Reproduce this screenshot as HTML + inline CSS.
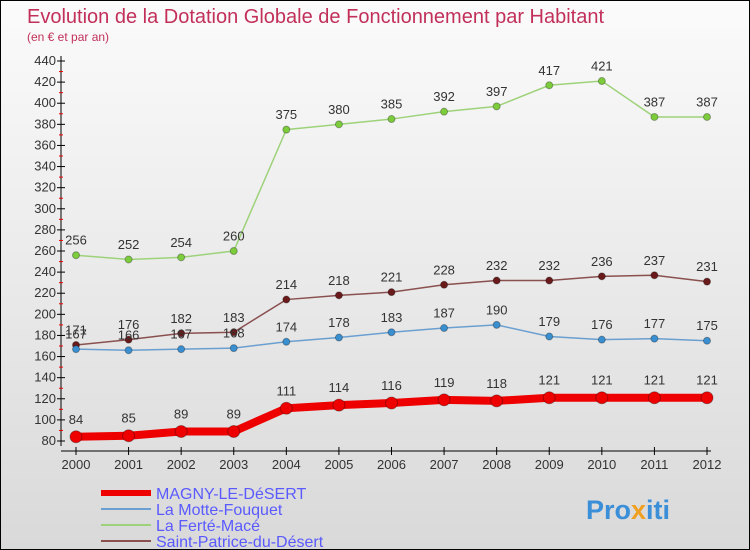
<!DOCTYPE html>
<html><head><meta charset="utf-8"><style>
body{margin:0}
#c{width:750px;height:550px;position:relative;overflow:hidden;box-sizing:border-box;border:1px solid #000;background:linear-gradient(#fbfbfb,#d9d9d9);font-family:"Liberation Sans",sans-serif}
svg text{font-family:"Liberation Sans",sans-serif}
</style></head><body>
<div id="c">
<svg width="750" height="550" id="s">
<text x="26" y="22" font-size="20" fill="#c2305a">Evolution de la Dotation Globale de Fonctionnement par Habitant</text>
<text x="26" y="40" font-size="12" fill="#c2305a">(en € et par an)</text>
<g id="axes"></g><g id="series"></g>
<g>
<line x1="100" y1="492" x2="150" y2="492" stroke="#e00" stroke-width="6"/>
<text x="155" y="498" font-size="16" fill="#5a5aff">MAGNY-LE-DéSERT</text>
<line x1="100" y1="508" x2="150" y2="508" stroke="#6a9fd0" stroke-width="2"/>
<text x="155" y="514" font-size="16" fill="#5a5aff">La Motte-Fouquet</text>
<line x1="100" y1="524" x2="150" y2="524" stroke="#9ed27a" stroke-width="2"/>
<text x="155" y="530" font-size="16" fill="#5a5aff">La Ferté-Macé</text>
<line x1="100" y1="540" x2="150" y2="540" stroke="#8a5050" stroke-width="2"/>
<text x="155" y="546" font-size="16" fill="#5a5aff">Saint-Patrice-du-Désert</text>
</g>
<text x="585" y="518" font-size="27" font-weight="bold" fill="#3b8fd8">Pro<tspan fill="#f0a020">x</tspan>iti</text>
</svg></div>
<script>
const years=[2000,2001,2002,2003,2004,2005,2006,2007,2008,2009,2010,2011,2012];
const magny=[84,85,89,89,111,114,116,119,118,121,121,121,121];
const motte=[167,166,167,168,174,178,183,187,190,179,176,177,175];
const ferte=[256,252,254,260,375,380,385,392,397,417,421,387,387];
const stp=[171,176,182,183,214,218,221,228,232,232,236,237,231];
const yTicks=[80,100,120,140,160,180,200,220,240,260,280,300,320,340,360,380,400,420,440];
const NS="http://www.w3.org/2000/svg";
const X=i=>75+i*(706-75)/12;
const Y=v=>440-(v-80)*380/360;
function mk(t,a,p){const e=document.createElementNS(NS,t);for(const k in a)e.setAttribute(k,a[k]);p.appendChild(e);return e;}
const ax=document.getElementById('axes');
mk('line',{x1:60,y1:55,x2:60,y2:445,stroke:'#000'},ax);
mk('line',{x1:60,y1:450,x2:710,y2:450,stroke:'#000'},ax);
yTicks.forEach(v=>{
 mk('line',{x1:56,y1:Y(v),x2:64,y2:Y(v),stroke:'#000'},ax);
 if(v<440) mk('line',{x1:58,y1:Y(v+10),x2:62,y2:Y(v+10),stroke:'#e00'},ax);
 const t=mk('text',{x:55,y:Y(v)+4,'font-size':13,fill:'#333','text-anchor':'end'},ax);t.textContent=v;
 
 
});
years.forEach((y,i)=>{
 mk('line',{x1:X(i),y1:446,x2:X(i),y2:454,stroke:'#000'},ax);
 const t=mk('text',{x:X(i),y:468,'font-size':13,fill:'#333','text-anchor':'middle'},ax);t.textContent=y;
 
 
});
const sg=document.getElementById('series');
function draw(data,col,dot,w,r,name){
 const g=mk('g',{},sg);
 
 
 mk('polyline',{points:data.map((v,i)=>X(i)+','+Y(v)).join(' '),fill:'none',stroke:col,'stroke-width':w},g);
 data.forEach((v,i)=>{
  const c=mk('circle',{cx:X(i),cy:Y(v),r:r,fill:dot,stroke:'rgba(0,0,0,0.3)'},g);
  
  
  const t=mk('text',{x:X(i),y:Y(v)-(r+7),'font-size':13,fill:'#333','text-anchor':'middle'},g);t.textContent=v;
  
  
 });
}
draw(ferte,'#9ed27a','#7ccc3c',1.5,3.5,'series-ferte');
draw(stp,'#8a5050','#6a1a1a',1.5,3.5,'series-saint-patrice');
draw(motte,'#6a9fd0','#3a8fd0',1.5,3.5,'series-motte');
draw(magny,'#e00','#e00',8,6,'series-magny');
</script>
</body></html>
